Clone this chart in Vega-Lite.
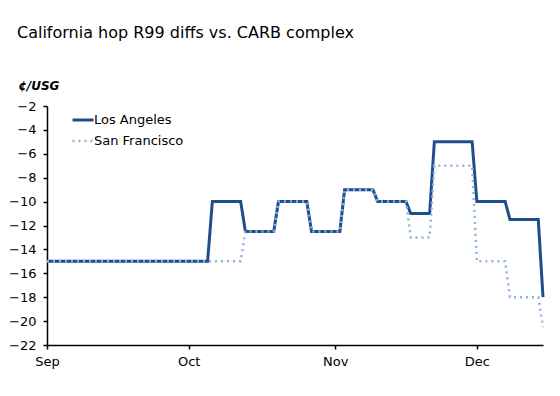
{
  "$schema": "https://vega.github.io/schema/vega-lite/v6.json",
  "width": 496,
  "height": 239,
  "autosize": {"type": "none"},
  "padding": {"left": 47, "top": 106, "right": 17, "bottom": 51},
  "background": "white",
  "title": {
    "text": "California hop R99 diffs vs. CARB complex",
    "anchor": "start",
    "frame": "group",
    "font": "DejaVu Sans",
    "fontSize": 16,
    "fontWeight": "normal",
    "color": "#000000",
    "baseline": "alphabetic",
    "offset": 0,
    "dx": -30,
    "dy": -25
  },
  "config": {
    "view": {"stroke": null},
    "axis": {
      "grid": false,
      "domainColor": "#000000",
      "domainWidth": 1.5,
      "tickColor": "#000000",
      "tickWidth": 1.5,
      "tickSize": 4,
      "labelFont": "DejaVu Sans",
      "labelFontSize": 13,
      "labelColor": "#000000"
    }
  },
  "data": {
    "values": [
      {"series": "Los Angeles", "date": "2023/09/01", "value": -15},
      {"series": "Los Angeles", "date": "2023/10/05", "value": -15},
      {"series": "Los Angeles", "date": "2023/10/06", "value": -10},
      {"series": "Los Angeles", "date": "2023/10/12", "value": -10},
      {"series": "Los Angeles", "date": "2023/10/13", "value": -12.5},
      {"series": "Los Angeles", "date": "2023/10/19", "value": -12.5},
      {"series": "Los Angeles", "date": "2023/10/20", "value": -10},
      {"series": "Los Angeles", "date": "2023/10/26", "value": -10},
      {"series": "Los Angeles", "date": "2023/10/27", "value": -12.5},
      {"series": "Los Angeles", "date": "2023/11/02", "value": -12.5},
      {"series": "Los Angeles", "date": "2023/11/03", "value": -9},
      {"series": "Los Angeles", "date": "2023/11/09", "value": -9},
      {"series": "Los Angeles", "date": "2023/11/10", "value": -10},
      {"series": "Los Angeles", "date": "2023/11/16", "value": -10},
      {"series": "Los Angeles", "date": "2023/11/17", "value": -11},
      {"series": "Los Angeles", "date": "2023/11/21", "value": -11},
      {"series": "Los Angeles", "date": "2023/11/22", "value": -5},
      {"series": "Los Angeles", "date": "2023/11/30", "value": -5},
      {"series": "Los Angeles", "date": "2023/12/01", "value": -10},
      {"series": "Los Angeles", "date": "2023/12/07", "value": -10},
      {"series": "Los Angeles", "date": "2023/12/08", "value": -11.5},
      {"series": "Los Angeles", "date": "2023/12/14", "value": -11.5},
      {"series": "Los Angeles", "date": "2023/12/15", "value": -18},
      {"series": "San Francisco", "date": "2023/09/01", "value": -15},
      {"series": "San Francisco", "date": "2023/10/12", "value": -15},
      {"series": "San Francisco", "date": "2023/10/13", "value": -12.5},
      {"series": "San Francisco", "date": "2023/10/19", "value": -12.5},
      {"series": "San Francisco", "date": "2023/10/20", "value": -10},
      {"series": "San Francisco", "date": "2023/10/26", "value": -10},
      {"series": "San Francisco", "date": "2023/10/27", "value": -12.5},
      {"series": "San Francisco", "date": "2023/11/02", "value": -12.5},
      {"series": "San Francisco", "date": "2023/11/03", "value": -9},
      {"series": "San Francisco", "date": "2023/11/09", "value": -9},
      {"series": "San Francisco", "date": "2023/11/10", "value": -10},
      {"series": "San Francisco", "date": "2023/11/16", "value": -10},
      {"series": "San Francisco", "date": "2023/11/17", "value": -13},
      {"series": "San Francisco", "date": "2023/11/21", "value": -13},
      {"series": "San Francisco", "date": "2023/11/22", "value": -7},
      {"series": "San Francisco", "date": "2023/11/30", "value": -7},
      {"series": "San Francisco", "date": "2023/12/01", "value": -15},
      {"series": "San Francisco", "date": "2023/12/07", "value": -15},
      {"series": "San Francisco", "date": "2023/12/08", "value": -18},
      {"series": "San Francisco", "date": "2023/12/14", "value": -18},
      {"series": "San Francisco", "date": "2023/12/15", "value": -20.5}
    ]
  },
  "mark": {"type": "line", "strokeJoin": "miter", "strokeCap": "butt", "clip": false},
  "encoding": {
    "x": {
      "field": "date",
      "type": "temporal",
      "scale": {"domain": [{"year": 2023, "month": 9, "date": 1}, {"year": 2023, "month": 12, "date": 15}]},
      "axis": {
        "title": null,
        "format": "%b",
        "values": [
          {"year": 2023, "month": 9, "date": 1},
          {"year": 2023, "month": 10, "date": 1},
          {"year": 2023, "month": 11, "date": 1},
          {"year": 2023, "month": 12, "date": 1}
        ],
        "labelPadding": 6,
        "labelFlush": false
      }
    },
    "y": {
      "field": "value",
      "type": "quantitative",
      "scale": {"domain": [-22, -2], "nice": false, "zero": false},
      "axis": {
        "values": [-2, -4, -6, -8, -10, -12, -14, -16, -18, -20, -22],
        "title": "¢/USG",
        "titleAngle": 0,
        "titleAlign": "left",
        "titleBaseline": "middle",
        "titleX": -29,
        "titleY": -21,
        "titleFont": "DejaVu Sans",
        "titleFontSize": 12,
        "titleFontWeight": "bold",
        "titleFontStyle": "italic",
        "titleColor": "#000000",
        "labelPadding": 7
      }
    },
    "color": {
      "field": "series",
      "type": "nominal",
      "scale": {"domain": ["Los Angeles", "San Francisco"], "range": ["#1F4E8C", "#8DB3E2"]},
      "legend": {
        "orient": "none",
        "legendX": 24,
        "legendY": 2,
        "title": null,
        "padding": 0,
        "symbolType": "stroke",
        "symbolSize": 441,
        "labelFont": "DejaVu Sans",
        "labelFontSize": 13,
        "labelColor": "#000000",
        "labelOffset": -1,
        "rowPadding": 2
      }
    },
    "strokeDash": {
      "field": "series",
      "type": "nominal",
      "scale": {"domain": ["Los Angeles", "San Francisco"], "range": [[1, 0], [2, 4]]}
    },
    "strokeWidth": {
      "field": "series",
      "type": "nominal",
      "scale": {"domain": ["Los Angeles", "San Francisco"], "range": [3, 2.5]}
    }
  }
}
